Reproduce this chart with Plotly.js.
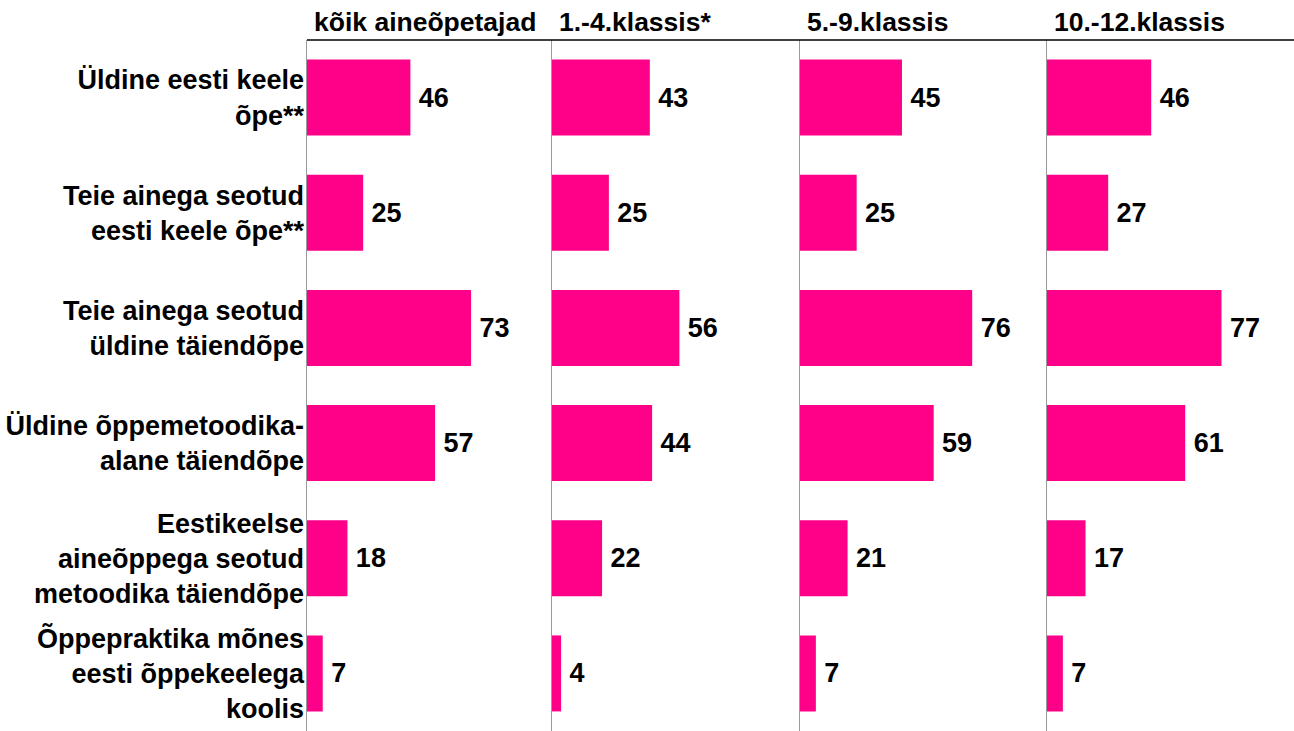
<!DOCTYPE html>
<html>
<head>
<meta charset="utf-8">
<script src="https://cdn.plot.ly/plotly-3.0.1.min.js"></script>
<style>html,body{margin:0;padding:0;background:#fff;}#chart{width:1294px;height:731px;}</style>
</head>
<body>
<div id="chart"></div>
<script>
const categories = [
  "Üldine eesti keele<br>õpe**",
  "Teie ainega seotud<br>eesti keele õpe**",
  "Teie ainega seotud<br>üldine täiendõpe",
  "Üldine õppemetoodika-<br>alane täiendõpe",
  "Eestikeelse<br>aineõppega seotud<br>metoodika täiendõpe",
  "Õppepraktika mõnes<br>eesti õppekeelega<br>koolis"
];
const groups = ["kõik aineõpetajad", "1.-4.klassis*", "5.-9.klassis", "10.-12.klassis"];
const valuesAll = [46, 25, 73, 57, 18, 7];
const values1to4 = [43, 25, 56, 44, 22, 4];
const values5to9 = [45, 25, 76, 59, 21, 7];
const values10to12 = [46, 27, 77, 61, 17, 7];
const series = [valuesAll, values1to4, values5to9, values10to12];

const W = 1294, H = 731;
const FONT = "Arial, 'Liberation Sans', sans-serif";
const lefts = [307, 552, 800, 1047, 1294];
const topPx = 40;
const yDomain = [0, 1 - topPx / H];

const data = [];
const layout = {
  width: W, height: H,
  margin: {l: 0, r: 0, t: 0, b: 0},
  paper_bgcolor: "#fff", plot_bgcolor: "#fff",
  showlegend: false,
  bargap: 0.34,
  font: {family: FONT, size: 26, color: "#000", weight: "bold"},
  annotations: [],
  shapes: [{
    type: "line", xref: "paper", yref: "paper",
    x0: lefts[0] / W, x1: 1, y0: yDomain[1], y1: yDomain[1],
    line: {color: "#000", width: 1.5}
  }]
};

series.forEach((vals, i) => {
  const n = i + 1;
  const xa = n === 1 ? "x" : "x" + n;
  const ya = n === 1 ? "y" : "y" + n;
  data.push({
    type: "bar", orientation: "h",
    x: vals, y: categories,
    xaxis: xa, yaxis: ya,
    marker: {color: "#FF0088", line: {width: 0}},
    text: vals.map(v => "\u2009" + v),
    textposition: "outside",
    cliponaxis: false,
    textfont: {family: FONT, size: 27, color: "#000", weight: "bold"},
    hoverinfo: "none"
  });
  layout["xaxis" + (n === 1 ? "" : n)] = {
    domain: [lefts[i] / W, lefts[i + 1] / W],
    range: [0, 109],
    showgrid: false, zeroline: false, showline: false,
    showticklabels: false, ticks: "",
    anchor: ya, fixedrange: true
  };
  layout["yaxis" + (n === 1 ? "" : n)] = {
    domain: yDomain,
    type: "category",
    autorange: "reversed",
    showgrid: false, zeroline: false,
    showline: true, linecolor: "#9a9a9a", linewidth: 1.5,
    showticklabels: n === 1, ticks: "",
    ticklabelstandoff: -4,
    tickfont: {family: FONT, size: 27, color: "#000", weight: "bold"},
    anchor: xa, fixedrange: true
  };
  layout.annotations.push({
    text: groups[i], xref: "paper", yref: "paper",
    x: (lefts[i] + 5) / W, y: 1 - 22 / H,
    xanchor: "left", yanchor: "middle", showarrow: false,
    font: {family: FONT, size: 26.5, color: "#000", weight: "bold"}
  });
});

Plotly.newPlot("chart", data, layout, {displayModeBar: false, staticPlot: true});
</script>
</body>
</html>
